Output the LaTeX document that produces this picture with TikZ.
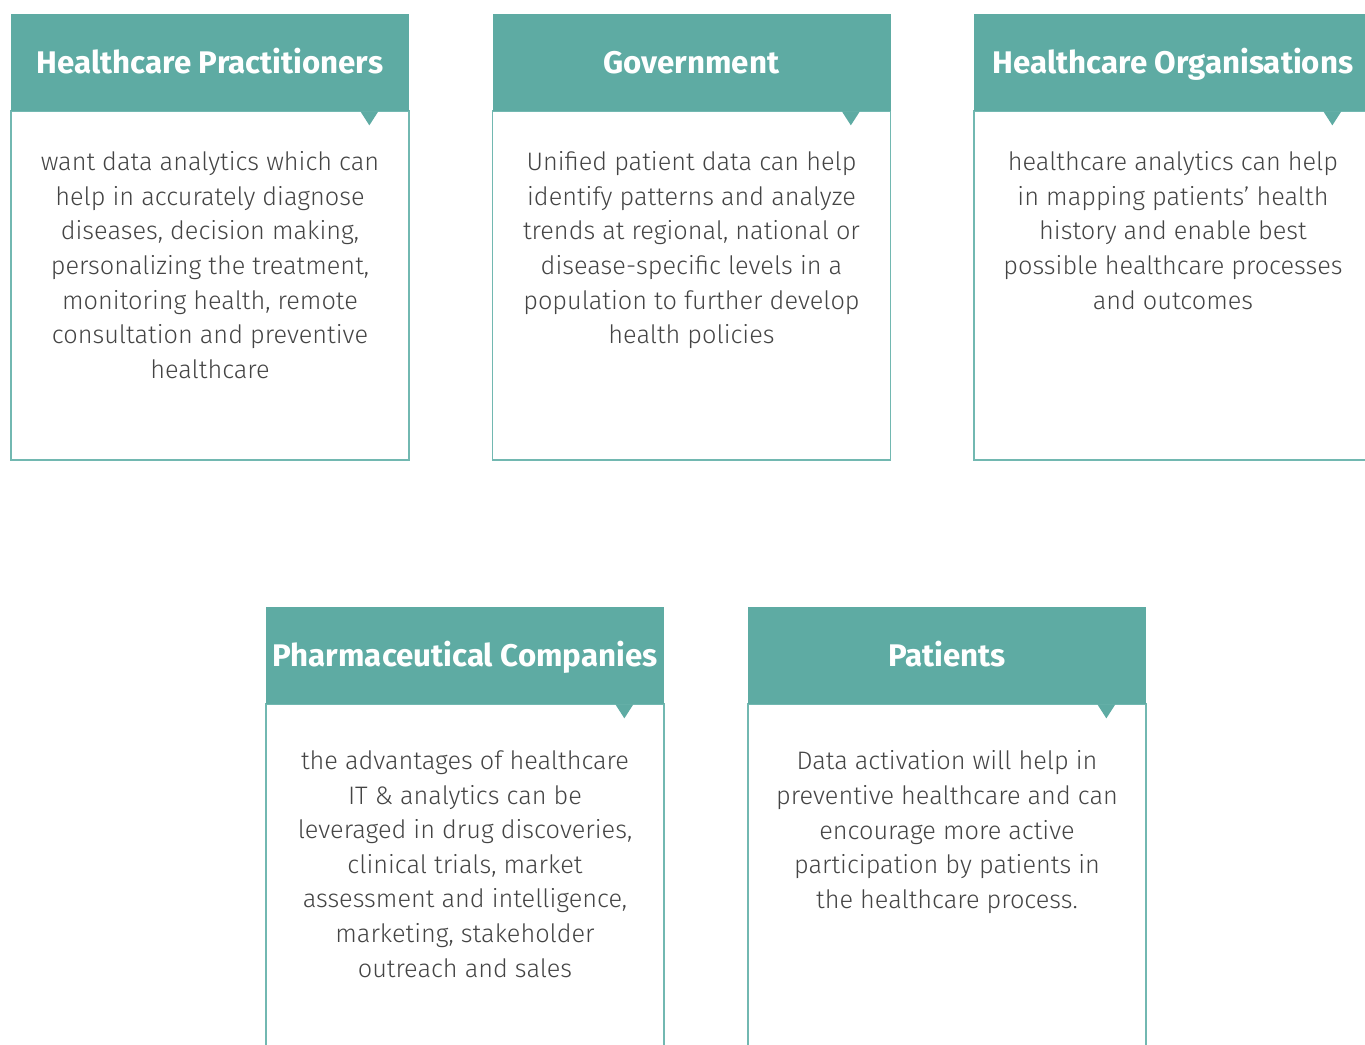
\documentclass[tikz,border=0pt]{standalone}
\usepackage{fontspec}
\setmainfont{Fira Sans}
\newfontfamily\lightfont{Fira Sans Light}
\usetikzlibrary{positioning}
\definecolor{cardteal}{HTML}{5EABA3}
\definecolor{cardline}{HTML}{72B8B1}
\definecolor{cardtext}{HTML}{444444}
\tikzset{
  cardhead/.style={fill=cardteal, minimum width=7.96cm, minimum height=1.94cm, inner sep=0pt, text=white, text height=12.3pt, text depth=0pt, font=\bfseries\fontsize{17.8}{21}\selectfont},
  cardbody/.style={draw=cardline, line width=0.85pt, minimum width=7.96cm, minimum height=6.98cm, inner sep=0pt},
  blurb/.style={anchor=north, align=center, inner sep=0pt, text=cardtext, font=\lightfont\fontsize{14.4}{19.7}\selectfont},
  cardtip/.style={fill=cardteal}
}
\begin{document}
\begin{tikzpicture}
\useasboundingbox (0,0) rectangle (27.3,-20.9);

% top row
\node[cardbody] (pracbox) at (4.2,-5.71) {};
\node[cardhead] (prac) at (4.2,-1.25) {Healthcare Practitioners};
\fill[cardtip] ([xshift=-0.98cm]prac.south east) -- ++(0.36,0) -- ++(-0.18,-0.28) -- cycle;
\node[blurb] (practext) at ([yshift=-0.8cm]prac.south) {want data analytics which can\\help in accurately diagnose\\diseases, decision making,\\personalizing the treatment,\\monitoring health, remote\\consultation and preventive\\healthcare};

\node[cardbody] (govbox) at (13.83,-5.71) {};
\node[cardhead] (gov) at (13.83,-1.25) {Government};
\fill[cardtip] ([xshift=-0.98cm]gov.south east) -- ++(0.36,0) -- ++(-0.18,-0.28) -- cycle;
\node[blurb] (govtext) at ([yshift=-0.8cm]gov.south) {Unified patient data can help\\identify patterns and analyze\\trends at regional, national or\\disease-specific levels in a\\population to further develop\\health policies};

\node[cardbody] (orgbox) at (23.46,-5.71) {};
\node[cardhead] (org) at (23.46,-1.25) {Healthcare Organisations};
\fill[cardtip] ([xshift=-0.98cm]org.south east) -- ++(0.36,0) -- ++(-0.18,-0.28) -- cycle;
\node[blurb] (orgtext) at ([yshift=-0.8cm]org.south) {healthcare analytics can help\\in mapping patients’ health\\history and enable best\\possible healthcare processes\\and outcomes};

% bottom row
\node[cardbody] (pharmabox) at (9.3,-17.57) {};
\node[cardhead] (pharma) at (9.3,-13.11) {Pharmaceutical Companies};
\fill[cardtip] ([xshift=-0.98cm]pharma.south east) -- ++(0.36,0) -- ++(-0.18,-0.28) -- cycle;
\node[blurb] (pharmatext) at ([yshift=-0.92cm]pharma.south) {the advantages of healthcare\\IT \& analytics can be\\leveraged in drug discoveries,\\clinical trials, market\\assessment and intelligence,\\marketing, stakeholder\\outreach and sales};

\node[cardbody] (patbox) at (18.94,-17.57) {};
\node[cardhead] (pat) at (18.94,-13.11) {Patients};
\fill[cardtip] ([xshift=-0.98cm]pat.south east) -- ++(0.36,0) -- ++(-0.18,-0.28) -- cycle;
\node[blurb] (pattext) at ([yshift=-0.92cm]pat.south) {Data activation will help in\\preventive healthcare and can\\encourage more active\\participation by patients in\\the healthcare process.};

\end{tikzpicture}
\end{document}
